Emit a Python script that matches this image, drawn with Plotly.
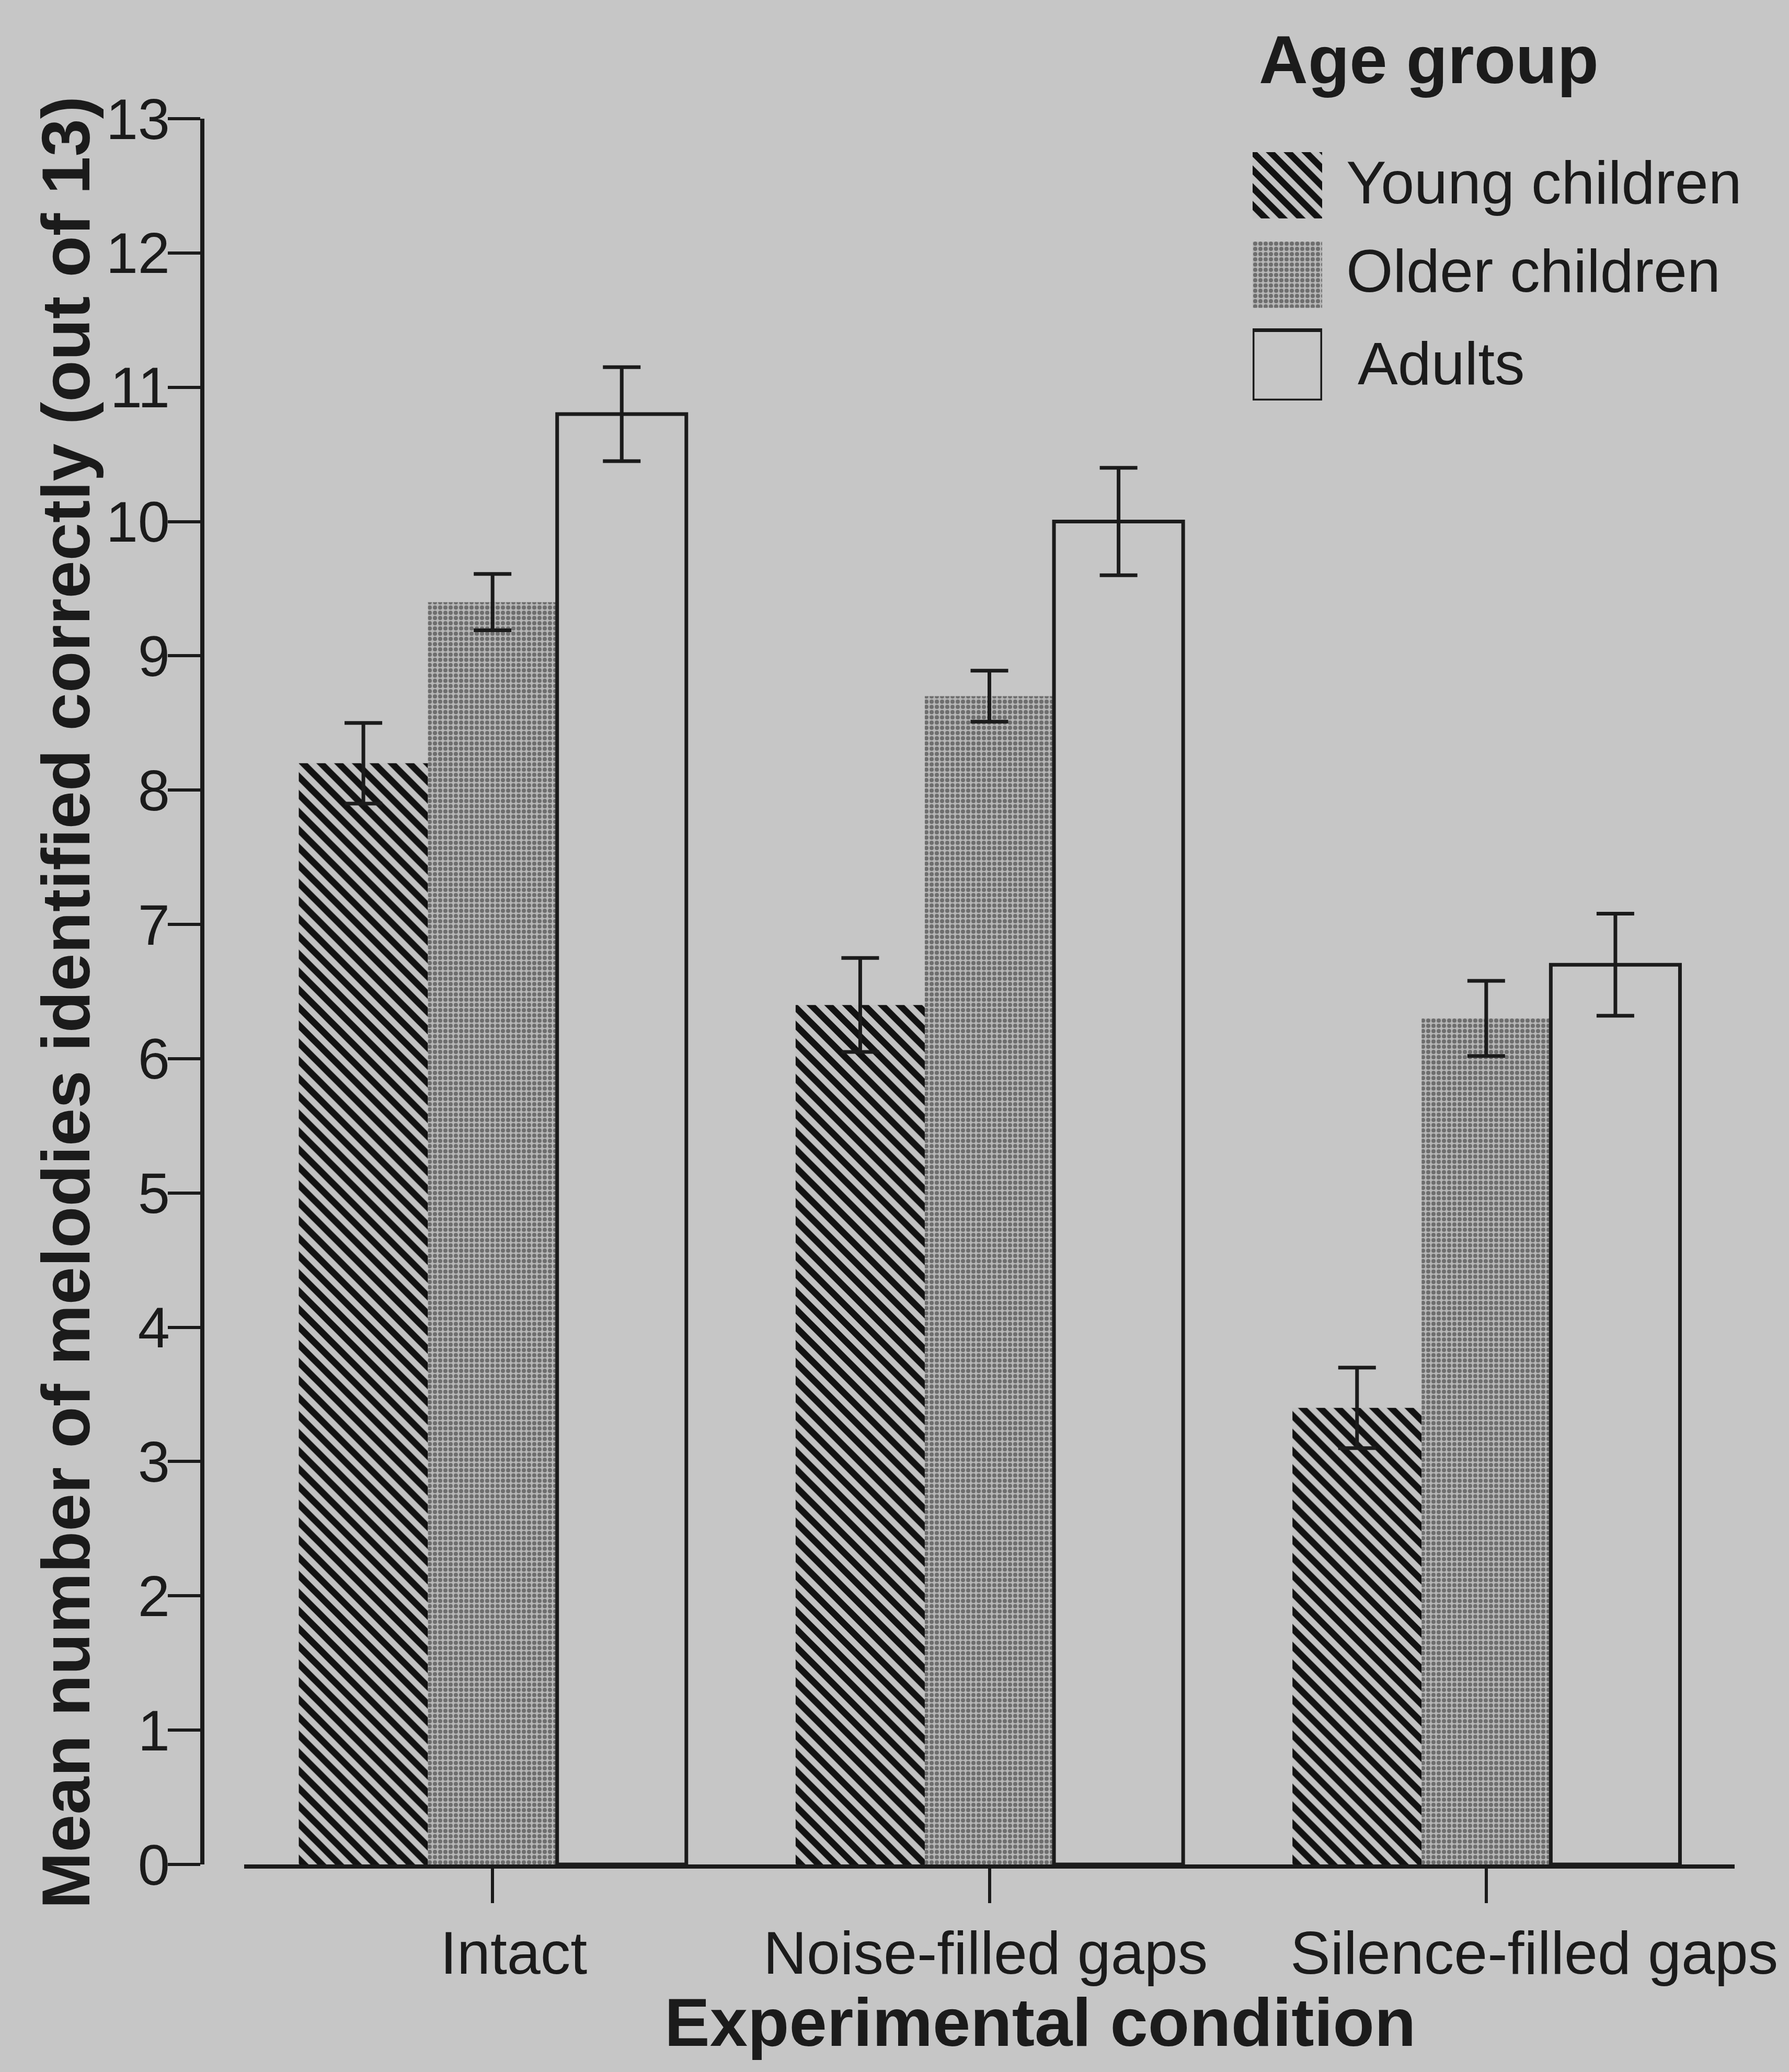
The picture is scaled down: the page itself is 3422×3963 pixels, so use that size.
import plotly.graph_objects as go

# Mean number of melodies identified (out of 13) by condition and age group
conditions = ["Intact", "Noise-filled gaps", "Silence-filled gaps"]
age_groups = ["Young children", "Older children", "Adults"]

young_mean = [8.2, 6.4, 3.4]
young_err = [0.30, 0.35, 0.30]
older_mean = [9.4, 8.7, 6.3]
older_err = [0.21, 0.19, 0.28]
adult_mean = [10.8, 10.0, 6.7]
adult_err = [0.35, 0.40, 0.38]

y_tick_values = [0, 1, 2, 3, 4, 5, 6, 7, 8, 9, 10, 11, 12, 13]

W, H = 3422, 3963
BG = "#c6c6c6"
INK = "#1b1b1b"
FONT = "Liberation Sans, Arial, Helvetica, sans-serif"

# horizontal nudge (px) of each category label relative to its tick
label_shift_px = [40, -8, 92]


def px_x(v):
    return v / W


def px_y(v):
    return 1 - v / H


# fill styles per age group
styles = {
    "Young children": dict(
        color=BG,
        pattern=dict(shape="\\", size=24, solidity=0.52, fgcolor="#121212", bgcolor="#c2c2c2", fillmode="replace"),
        line=dict(width=0),
    ),
    "Older children": dict(
        color="#989898",
        pattern=dict(shape=".", size=10, solidity=0.5, fgcolor="#6e6e6e", bgcolor="#b6b6b6", fillmode="replace"),
        line=dict(width=0),
    ),
    "Adults": dict(color="rgba(0,0,0,0)", line=dict(width=7, color=INK)),
}

series = [
    ("Young children", young_mean, young_err),
    ("Older children", older_mean, older_err),
    ("Adults", adult_mean, adult_err),
]

fig = go.Figure()
for name, means, errs in series:
    fig.add_trace(
        go.Bar(
            x=conditions,
            y=means,
            name=name,
            marker=styles[name],
            error_y=dict(type="data", array=errs, visible=True, color=INK, thickness=7, width=36),
            showlegend=False,
        )
    )

# legend swatches drawn as bars on a small hidden inset axis
swatch_rows = {"Young children": (0.0, 0.80), "Older children": (1.08, 0.80), "Adults": (2.15, 0.85)}
for name in age_groups:
    base, h = swatch_rows[name]
    fig.add_trace(
        go.Bar(
            x=[0],
            y=[h],
            base=[base],
            width=[1],
            offset=-0.5,
            marker=styles[name],
            xaxis="x2",
            yaxis="y2",
            showlegend=False,
            hoverinfo="skip",
            cliponaxis=False,
        )
    )

annotations = [
    dict(text="<b>Age group</b>", x=px_x(2406), y=px_y(114), xanchor="left", yanchor="middle",
         font=dict(size=130, family=FONT, color=INK)),
    dict(text="Young children", x=px_x(2573), y=px_y(349), xanchor="left", yanchor="middle",
         font=dict(size=115, family=FONT, color=INK)),
    dict(text="Older children", x=px_x(2573), y=px_y(518), xanchor="left", yanchor="middle",
         font=dict(size=115, family=FONT, color=INK)),
    dict(text="Adults", x=px_x(2595), y=px_y(695), xanchor="left", yanchor="middle",
         font=dict(size=115, family=FONT, color=INK)),
    dict(text="<b>Experimental condition</b>", x=px_x(1989), y=px_y(3868), xanchor="center", yanchor="middle",
         font=dict(size=130, family=FONT, color=INK)),
    dict(text="<b>Mean number of melodies identified correctly (out of 13)</b>", x=px_x(126), y=px_y(1918),
         xanchor="center", yanchor="middle", textangle=-90,
         font=dict(size=130, family=FONT, color=INK)),
]
for a in annotations:
    a.update(xref="paper", yref="paper", showarrow=False)

# category labels under the x-axis ticks
for cat, shift in zip(conditions, label_shift_px):
    annotations.append(
        dict(text=cat, x=cat, xref="x", y=px_y(3735), yref="paper", xshift=shift,
             xanchor="center", yanchor="middle", showarrow=False,
             font=dict(size=115, family=FONT, color=INK))
    )

fig.update_layout(
    width=W,
    height=H,
    autosize=False,
    margin=dict(l=0, r=0, t=0, b=0, pad=0, autoexpand=False),
    paper_bgcolor=BG,
    plot_bgcolor=BG,
    barmode="group",
    bargap=0.22,
    bargroupgap=0.0,
    showlegend=False,
    font=dict(family=FONT, color=INK),
    annotations=annotations,
    xaxis=dict(
        domain=[px_x(467), px_x(3318)],
        range=[-0.5, 2.5],
        showline=True,
        linecolor=INK,
        linewidth=8,
        ticks="outside",
        ticklen=66,
        tickwidth=6,
        tickcolor=INK,
        showticklabels=False,
        showgrid=False,
        zeroline=False,
        automargin=False,
        anchor="y",
    ),
    yaxis=dict(
        domain=[px_y(3566), px_y(227)],
        range=[0, 13],
        tickvals=y_tick_values,
        ticktext=[str(v) for v in y_tick_values],
        showline=True,
        linecolor=INK,
        linewidth=8,
        ticks="outside",
        ticklen=62,
        tickwidth=6,
        tickcolor=INK,
        tickfont=dict(size=110, family=FONT, color=INK),
        ticklabelstandoff=-26,
        showgrid=False,
        zeroline=False,
        automargin=False,
        anchor="free",
        position=px_x(387),
    ),
    xaxis2=dict(domain=[px_x(2396), px_x(2529)], range=[-0.5, 0.5], visible=False,
                automargin=False, anchor="y2"),
    yaxis2=dict(domain=[px_y(766), px_y(291)], range=[3.0, 0.0], visible=False,
                automargin=False, anchor="x2"),
)

fig.write_html("out.html", config={"displayModeBar": False})
